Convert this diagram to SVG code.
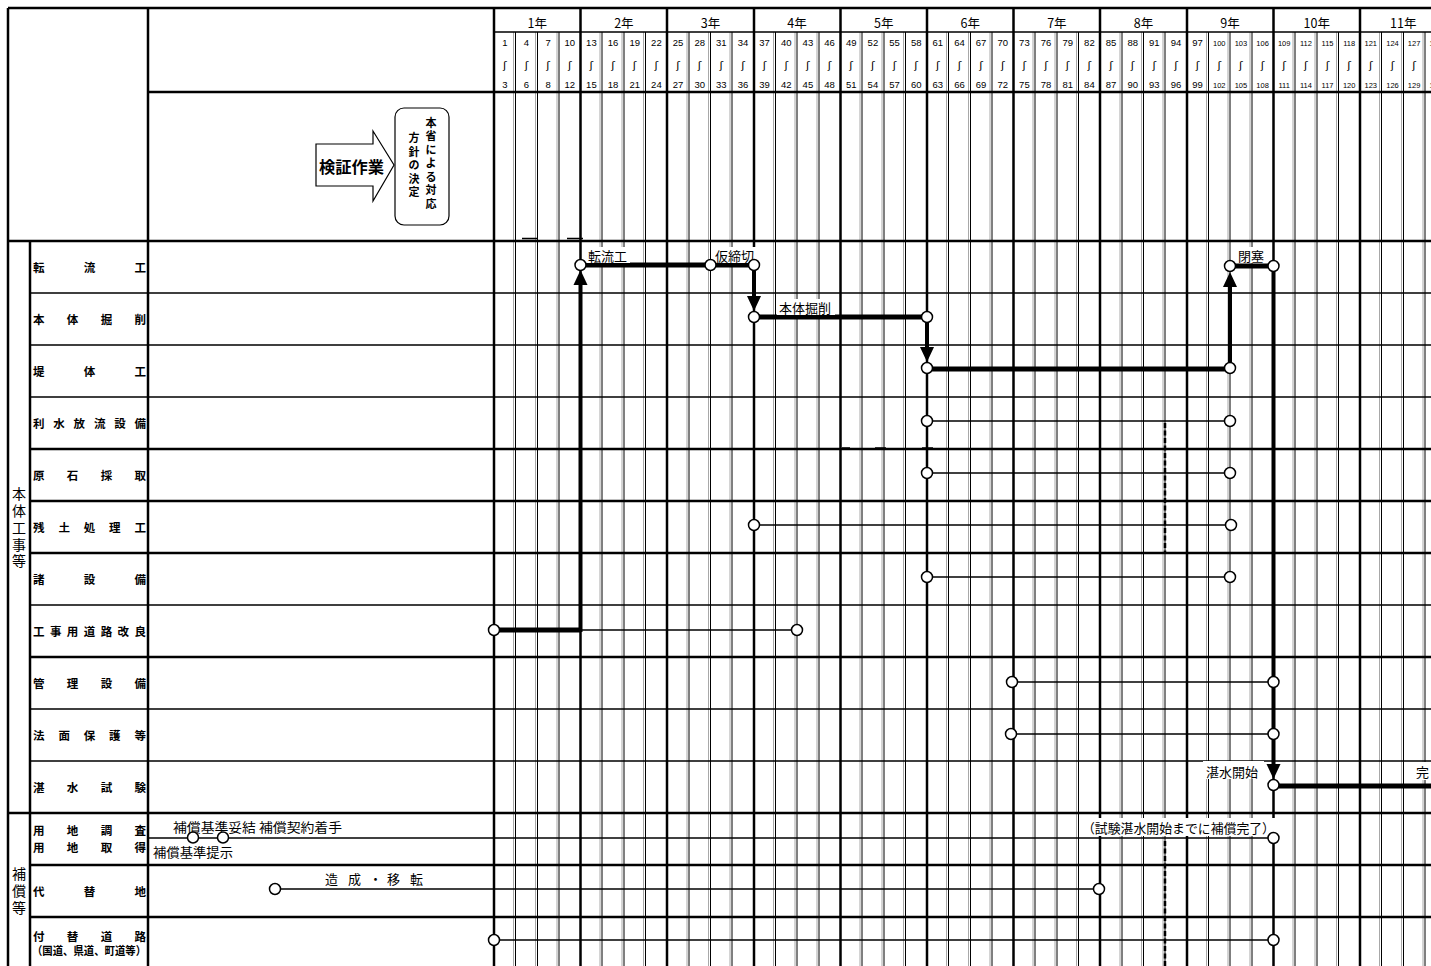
<svg xmlns="http://www.w3.org/2000/svg" width="1431" height="966" viewBox="0 0 1431 966">
<defs>
<style>
.bg{fill:#fff}
.yr{stroke:#000;stroke-width:2.5;fill:none}
.sub{stroke:#000;stroke-width:1;fill:none}
.subg{stroke:#a8a8a8;stroke-width:1;fill:none}
.hk{stroke:#000;stroke-width:2.5;fill:none}
.hn{stroke:#000;stroke-width:1.6;fill:none}
.jp{font-family:"Noto Sans CJK JP","Noto Sans CJK SC",sans-serif;fill:#000}
.lbl{font-family:"Noto Sans CJK JP",sans-serif;font-size:11.5px;font-weight:bold;dominant-baseline:central;fill:#000}
.grp{font-family:"Noto Sans CJK JP",sans-serif;font-size:14px;text-anchor:middle;dominant-baseline:central;fill:#000}
.yl{font-family:"Noto Sans CJK JP",sans-serif;font-size:12.5px;text-anchor:middle;dominant-baseline:central;fill:#000}
.n{font-family:"Liberation Sans",Arial,sans-serif;font-size:9.5px;text-anchor:middle;fill:#000}
.s{font-family:"Liberation Sans",Arial,sans-serif;font-size:7.5px;text-anchor:middle;fill:#000}
.w{font-family:"DejaVu Sans",sans-serif;font-size:11px;text-anchor:middle;dominant-baseline:central;fill:#000}
.tl{font-family:"Noto Sans CJK JP",sans-serif;font-size:13px;dominant-baseline:central;fill:#000}
.th{stroke:#000;stroke-width:5;fill:none}
.tv{stroke:#000;stroke-width:4;fill:none;marker-end:url(#ah)}
.tn{stroke:#000;stroke-width:1.5;fill:none}
.c{fill:#fff;stroke:#000;stroke-width:1.5}
.wb{fill:#fff}
</style>
<marker id="ah" markerUnits="userSpaceOnUse" markerWidth="16" markerHeight="14" refX="0" refY="7" orient="auto" overflow="visible">
<path d="M0,0 L15,7 L0,14 z" fill="#000"/>
</marker>
</defs>
<rect class="bg" x="0" y="0" width="1431" height="966"/>

<g id="grid">
<path class="subg" d="M513.5 32V966M535.5 32V966M557 32V966M600 32V966M622 32V966M643.5 32V966M687 32V966M708.5 32V966M730 32V966M773.5 32V966M795 32V966M817 32V966M860 32V966M882 32V966M903.5 32V966M946.5 32V966M968.5 32V966M990 32V966M1033 32V966M1055 32V966M1076.5 32V966M1120 32V966M1141.5 32V966M1163 32V966M1206.5 32V966M1228 32V966M1250 32V966M1293 32V966M1315 32V966M1336.5 32V966M1379.5 32V966M1401.5 32V966M1423 32V966"/>
<path class="sub" d="M515.5 32V966M537.5 32V966M559 32V966M602 32V966M624 32V966M645.5 32V966M689 32V966M710.5 32V966M732 32V966M775.5 32V966M797 32V966M819 32V966M862 32V966M884 32V966M905.5 32V966M948.5 32V966M970.5 32V966M992 32V966M1035 32V966M1057 32V966M1078.5 32V966M1122 32V966M1143.5 32V966M1165 32V966M1208.5 32V966M1230 32V966M1252 32V966M1295 32V966M1317 32V966M1338.5 32V966M1381.5 32V966M1403.5 32V966M1425 32V966"/>
<path class="yr" d="M494 8V966M580.5 8V966M667 8V966M754 8V966M840.5 8V966M927 8V966M1013.5 8V966M1100 8V966M1187 8V966M1273.5 8V966M1360 8V966"/>
<path class="yr" d="M8 8V966M148 8V966M30 241V966"/>
<path class="hk" d="M8 8H1431M148 92H1431M8 241H1431M30 449H1431M30 501H1431M30 553H1431M30 657H1431M8 813H1431M30 865H1431M30 917H1431"/>
<path class="hn" d="M494 32H1431M30 293H1431M30 345H1431M30 397H1431M30 605H1431M30 709H1431M30 761H1431"/>
<path class="hn" d="M522 238.5H538M567 238.5H583M842 448H850M875 448H886M922 448H933"/>
</g>

<g id="header">
<text class="yl" x="537.3" y="22">1年</text>
<text class="yl" x="623.9" y="22">2年</text>
<text class="yl" x="710.5" y="22">3年</text>
<text class="yl" x="797.1" y="22">4年</text>
<text class="yl" x="883.7" y="22">5年</text>
<text class="yl" x="970.3" y="22">6年</text>
<text class="yl" x="1056.9" y="22">7年</text>
<text class="yl" x="1143.5" y="22">8年</text>
<text class="yl" x="1230.1" y="22">9年</text>
<text class="yl" x="1316.7" y="22">10年</text>
<text class="yl" x="1403.3" y="22">11年</text>
<g id="num-top">
<text class="n" x="504.8" y="46">1</text><text class="n" x="526.5" y="46">4</text><text class="n" x="548.1" y="46">7</text><text class="n" x="569.8" y="46">10</text>
<text class="n" x="591.4" y="46">13</text><text class="n" x="613.1" y="46">16</text><text class="n" x="634.7" y="46">19</text><text class="n" x="656.4" y="46">22</text>
<text class="n" x="678" y="46">25</text><text class="n" x="699.7" y="46">28</text><text class="n" x="721.3" y="46">31</text><text class="n" x="743" y="46">34</text>
<text class="n" x="764.6" y="46">37</text><text class="n" x="786.3" y="46">40</text><text class="n" x="807.9" y="46">43</text><text class="n" x="829.6" y="46">46</text>
<text class="n" x="851.2" y="46">49</text><text class="n" x="872.9" y="46">52</text><text class="n" x="894.5" y="46">55</text><text class="n" x="916.2" y="46">58</text>
<text class="n" x="937.8" y="46">61</text><text class="n" x="959.5" y="46">64</text><text class="n" x="981.1" y="46">67</text><text class="n" x="1002.8" y="46">70</text>
<text class="n" x="1024.4" y="46">73</text><text class="n" x="1046.1" y="46">76</text><text class="n" x="1067.7" y="46">79</text><text class="n" x="1089.4" y="46">82</text>
<text class="n" x="1111" y="46">85</text><text class="n" x="1132.7" y="46">88</text><text class="n" x="1154.3" y="46">91</text><text class="n" x="1176" y="46">94</text>
<text class="n" x="1197.6" y="46">97</text><text class="s" x="1219.3" y="46">100</text><text class="s" x="1240.9" y="46">103</text><text class="s" x="1262.6" y="46">106</text>
<text class="s" x="1284.2" y="46">109</text><text class="s" x="1305.9" y="46">112</text><text class="s" x="1327.5" y="46">115</text><text class="s" x="1349.2" y="46">118</text>
<text class="s" x="1370.8" y="46">121</text><text class="s" x="1392.5" y="46">124</text><text class="s" x="1414.1" y="46">127</text><text class="s" x="1435.8" y="46">130</text>
</g>
<text class="w" x="504.8 526.5 548.1 569.8 591.4 613.1 634.7 656.4 678 699.7 721.3 743 764.6 786.3 807.9 829.6 851.2 872.9 894.5 916.2 937.8 959.5 981.1 1002.8 1024.4 1046.1 1067.7 1089.4 1111 1132.7 1154.3 1176 1197.6 1219.3 1240.9 1262.6 1284.2 1305.9 1327.5 1349.2 1370.8 1392.5 1414.1" y="65">ʃʃʃʃʃʃʃʃʃʃʃʃʃʃʃʃʃʃʃʃʃʃʃʃʃʃʃʃʃʃʃʃʃʃʃʃʃʃʃʃʃʃʃ</text>
<g id="num-bottom">
<text class="n" x="504.8" y="88">3</text><text class="n" x="526.5" y="88">6</text><text class="n" x="548.1" y="88">8</text><text class="n" x="569.8" y="88">12</text>
<text class="n" x="591.4" y="88">15</text><text class="n" x="613.1" y="88">18</text><text class="n" x="634.7" y="88">21</text><text class="n" x="656.4" y="88">24</text>
<text class="n" x="678" y="88">27</text><text class="n" x="699.7" y="88">30</text><text class="n" x="721.3" y="88">33</text><text class="n" x="743" y="88">36</text>
<text class="n" x="764.6" y="88">39</text><text class="n" x="786.3" y="88">42</text><text class="n" x="807.9" y="88">45</text><text class="n" x="829.6" y="88">48</text>
<text class="n" x="851.2" y="88">51</text><text class="n" x="872.9" y="88">54</text><text class="n" x="894.5" y="88">57</text><text class="n" x="916.2" y="88">60</text>
<text class="n" x="937.8" y="88">63</text><text class="n" x="959.5" y="88">66</text><text class="n" x="981.1" y="88">69</text><text class="n" x="1002.8" y="88">72</text>
<text class="n" x="1024.4" y="88">75</text><text class="n" x="1046.1" y="88">78</text><text class="n" x="1067.7" y="88">81</text><text class="n" x="1089.4" y="88">84</text>
<text class="n" x="1111" y="88">87</text><text class="n" x="1132.7" y="88">90</text><text class="n" x="1154.3" y="88">93</text><text class="n" x="1176" y="88">96</text>
<text class="n" x="1197.6" y="88">99</text><text class="s" x="1219.3" y="88">102</text><text class="s" x="1240.9" y="88">105</text><text class="s" x="1262.6" y="88">108</text>
<text class="s" x="1284.2" y="88">111</text><text class="s" x="1305.9" y="88">114</text><text class="s" x="1327.5" y="88">117</text><text class="s" x="1349.2" y="88">120</text>
<text class="s" x="1370.8" y="88">123</text><text class="s" x="1392.5" y="88">126</text><text class="s" x="1414.1" y="88">129</text><text class="s" x="1435.8" y="88">132</text>
</g>
</g>

<g id="kensho">
<polygon points="316,144 373,144 373,131 394,165 373,201 373,186 316,186" fill="#fff" stroke="#000" stroke-width="1.2"/>
<text class="jp" x="319" y="166" font-size="15.5" font-weight="bold" dominant-baseline="central" textLength="65" lengthAdjust="spacingAndGlyphs">検証作業</text>
</g>
<g id="hosin">
<rect x="395" y="108" width="54" height="117" rx="9" fill="#fff" stroke="#000" stroke-width="1.2"/>
<text class="jp" font-size="11" font-weight="bold" text-anchor="middle" dominant-baseline="central" x="431 431 431 431 431 431 431" y="121.5 135 148.5 162 175.5 189 202.5">本省による対応</text>
<text class="jp" font-size="11" font-weight="bold" text-anchor="middle" dominant-baseline="central" x="414 414 414 414 414" y="137 150.5 164 177.5 191">方針の決定</text>
</g>

<g id="labels">
<text class="grp" x="19 19 19 19 19" y="493 510 527 543.5 560">本体工事等</text>
<text class="grp" x="19 19 19" y="873 890 907">補償等</text>
<text class="lbl" x="33 83.75 134.5" y="267">転流工</text>
<text class="lbl" x="33 66.8 100.7 134.5" y="319">本体掘削</text>
<text class="lbl" x="33 83.75 134.5" y="371">堤体工</text>
<text class="lbl" x="33 53.3 73.6 93.9 114.2 134.5" y="423">利水放流設備</text>
<text class="lbl" x="33 66.8 100.7 134.5" y="475">原石採取</text>
<text class="lbl" x="33 58.4 83.75 109.1 134.5" y="527">残土処理工</text>
<text class="lbl" x="33 83.75 134.5" y="579">諸設備</text>
<text class="lbl" x="33 49.9 66.8 83.75 100.7 117.6 134.5" y="631">工事用道路改良</text>
<text class="lbl" x="33 66.8 100.7 134.5" y="683">管理設備</text>
<text class="lbl" x="33 58.4 83.75 109.1 134.5" y="735">法面保護等</text>
<text class="lbl" x="33 66.8 100.7 134.5" y="787">湛水試験</text>
<text class="lbl" x="33 66.8 100.7 134.5" y="830">用地調査</text>
<text class="lbl" x="33 66.8 100.7 134.5" y="846.5">用地取得</text>
<text class="lbl" x="33 83.75 134.5" y="891">代替地</text>
<text class="lbl" x="33 66.8 100.7 134.5" y="936">付替道路</text>
<text class="lbl" x="32" y="949.5" textLength="114" lengthAdjust="spacingAndGlyphs">（国道、県道、町道等）</text>
</g>

<g id="connectors">
<path class="th" d="M494 630H580.5"/>
<path class="tn" d="M580.5 630H797"/>
<path class="tv" d="M580.5 632V285"/>
<path class="th" d="M580.5 265H754"/>
<path class="tv" d="M754 265V296"/>
<path class="th" d="M754 317H927"/>
<path class="tv" d="M927 317V347"/>
<path class="th" d="M927 369H1230"/>
<path class="tv" d="M1230 369V287"/>
<path class="th" d="M1230 266H1273.5"/>
<path class="tv" d="M1273.5 264V764"/>
<path class="th" d="M1273.5 786H1431"/>
<path class="tn" d="M927 421H1230"/>
<path class="tn" d="M927 473H1230" stroke-width="2"/>
<path class="tn" d="M754 525H1230"/>
<path class="tn" d="M927 577H1230"/>
<path class="tn" d="M1013.5 682H1273.5"/>
<path class="tn" d="M1013.5 734H1273.5"/>
<path class="tn" d="M148 838H1273.5"/>
<path class="tn" d="M275 889H1100"/>
<path class="tn" d="M494 940H1273.5"/>
<path d="M1165 423V553M1165 841V966" stroke="#000" stroke-width="2.5" stroke-dasharray="5,2.5" fill="none"/>
</g>

<g id="task-labels">
<rect class="wb" x="586" y="247" width="44" height="16"/>
<text class="tl" x="588" y="255">転流工</text>
<rect class="wb" x="713" y="247" width="44" height="16"/>
<text class="tl" x="715" y="255">仮締切</text>
<rect class="wb" x="777" y="299" width="58" height="16"/>
<text class="tl" x="779" y="307">本体掘削</text>
<rect class="wb" x="1236" y="247" width="30" height="16"/>
<text class="tl" x="1238" y="255">閉塞</text>
<rect class="wb" x="1203" y="761" width="61" height="18"/>
<text class="tl" x="1206" y="771">湛水開始</text>
<rect class="wb" x="1414" y="762" width="17" height="18"/>
<text class="tl" x="1416" y="771">完</text>
<rect class="wb" x="1080" y="818" width="197" height="18"/>
<text class="tl" x="1082" y="827" textLength="193" lengthAdjust="spacingAndGlyphs">（試験湛水開始までに補償完了）</text>
<text class="tl" x="173" y="826" textLength="169" lengthAdjust="spacingAndGlyphs">補償基準妥結 補償契約着手</text>
<text class="tl" x="153" y="851" textLength="80" lengthAdjust="spacingAndGlyphs">補償基準提示</text>
<text class="tl" x="325 348 369 387 410" y="878">造成・移転</text>
</g>

<g id="nodes">
<circle class="c" cx="580.5" cy="265" r="5.5"/>
<circle class="c" cx="710.5" cy="265" r="5.5"/>
<circle class="c" cx="754" cy="265" r="5.5"/>
<circle class="c" cx="754" cy="317" r="5.5"/>
<circle class="c" cx="927" cy="317" r="5.5"/>
<circle class="c" cx="927" cy="368" r="5.5"/>
<circle class="c" cx="1230" cy="368" r="5.5"/>
<circle class="c" cx="1230" cy="266" r="5.5"/>
<circle class="c" cx="1273.5" cy="266" r="5.5"/>
<circle class="c" cx="1273.5" cy="785" r="5.5"/>
<circle class="c" cx="494" cy="630" r="5.5"/>
<circle class="c" cx="797" cy="630" r="5.5"/>
<circle class="c" cx="927" cy="421" r="5.5"/>
<circle class="c" cx="1230" cy="421" r="5.5"/>
<circle class="c" cx="927" cy="473" r="5.5"/>
<circle class="c" cx="1230" cy="473" r="5.5"/>
<circle class="c" cx="754" cy="525" r="5.5"/>
<circle class="c" cx="1231" cy="525" r="5.5"/>
<circle class="c" cx="927" cy="577" r="5.5"/>
<circle class="c" cx="1230" cy="577" r="5.5"/>
<circle class="c" cx="1012" cy="682" r="5.5"/>
<circle class="c" cx="1273.5" cy="682" r="5.5"/>
<circle class="c" cx="1011" cy="734" r="5.5"/>
<circle class="c" cx="1273.5" cy="734" r="5.5"/>
<circle class="c" cx="193" cy="837.5" r="5.5"/>
<circle class="c" cx="223" cy="837.5" r="5.5"/>
<circle class="c" cx="1273.5" cy="838" r="5.5"/>
<circle class="c" cx="275" cy="889" r="5.5"/>
<circle class="c" cx="1099" cy="889" r="5.5"/>
<circle class="c" cx="494" cy="940" r="5.5"/>
<circle class="c" cx="1273.5" cy="940" r="5.5"/>
</g>
</svg>
